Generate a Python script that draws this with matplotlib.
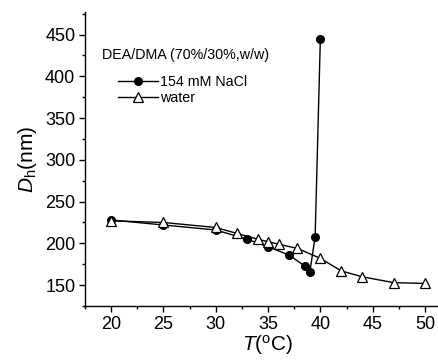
import matplotlib.pyplot as plt
from matplotlib.ticker import MultipleLocator

# Hydrodynamic diameter vs temperature, DEA/DMA copolymer
t_nacl = [20, 25, 30, 33, 35, 37, 38.5, 39, 39.5, 40]
dh_nacl = [228, 222, 216, 205, 196, 186, 173, 166, 208, 445]

t_water = [20, 25, 30, 32, 34, 35, 36, 37.8, 40, 42, 44, 47, 50]
dh_water = [227, 225, 219, 212, 205, 202, 199, 194, 182, 167, 160, 153, 152]

x_ticks = [20, 25, 30, 35, 40, 45, 50]
y_ticks = [150, 200, 250, 300, 350, 400, 450]

plt.rcParams['font.family'] = ['Liberation Sans', 'DejaVu Sans']
plt.rcParams['mathtext.fontset'] = 'custom'
plt.rcParams['mathtext.rm'] = 'Liberation Sans'
plt.rcParams['mathtext.it'] = 'Liberation Sans:italic'

fig = plt.figure(figsize=(4.39, 3.63), dpi=100)
ax = fig.add_axes([0.1936, 0.157, 0.834, 0.810])

ax.plot(t_nacl, dh_nacl, color='black', lw=1, marker='o', ms=5.5,
        mfc='black', mec='black', label='154 mM NaCl')
ax.plot(t_water, dh_water, color='black', lw=1, marker='^', ms=6.5,
        mfc='white', mec='black', mew=0.9, label='water')

ax.set_xlim(17.5, 52.5)
ax.set_ylim(125, 477)
ax.set_xticks(x_ticks)
ax.set_yticks(y_ticks)
ax.xaxis.set_minor_locator(MultipleLocator(2.5))
ax.yaxis.set_minor_locator(MultipleLocator(25))
ax.tick_params(which='major', direction='out', length=4, width=1,
               labelsize=13, pad=3)
ax.tick_params(which='minor', direction='out', length=2.5, width=1)

for side in ['top', 'right']:
    ax.spines[side].set_visible(False)
for side in ['left', 'bottom']:
    ax.spines[side].set_linewidth(1)

ax.set_xlabel(r'$T$(${}^{\rm o}$C)', fontsize=15, labelpad=0)
ax.set_ylabel(r'$D_{\rm h}$(nm)', fontsize=15, labelpad=4)

ax.text(0.047, 0.855, 'DEA/DMA (70%/30%,w/w)', transform=ax.transAxes,
        fontsize=10.3, va='center', ha='left')

ax.legend(loc='upper left', bbox_to_anchor=(0.082, 0.794), frameon=False,
          fontsize=10.3, handlelength=2.8, handletextpad=0.15,
          labelspacing=0.12, borderpad=0.2, borderaxespad=0)

fig.savefig('out.png', dpi=100)
